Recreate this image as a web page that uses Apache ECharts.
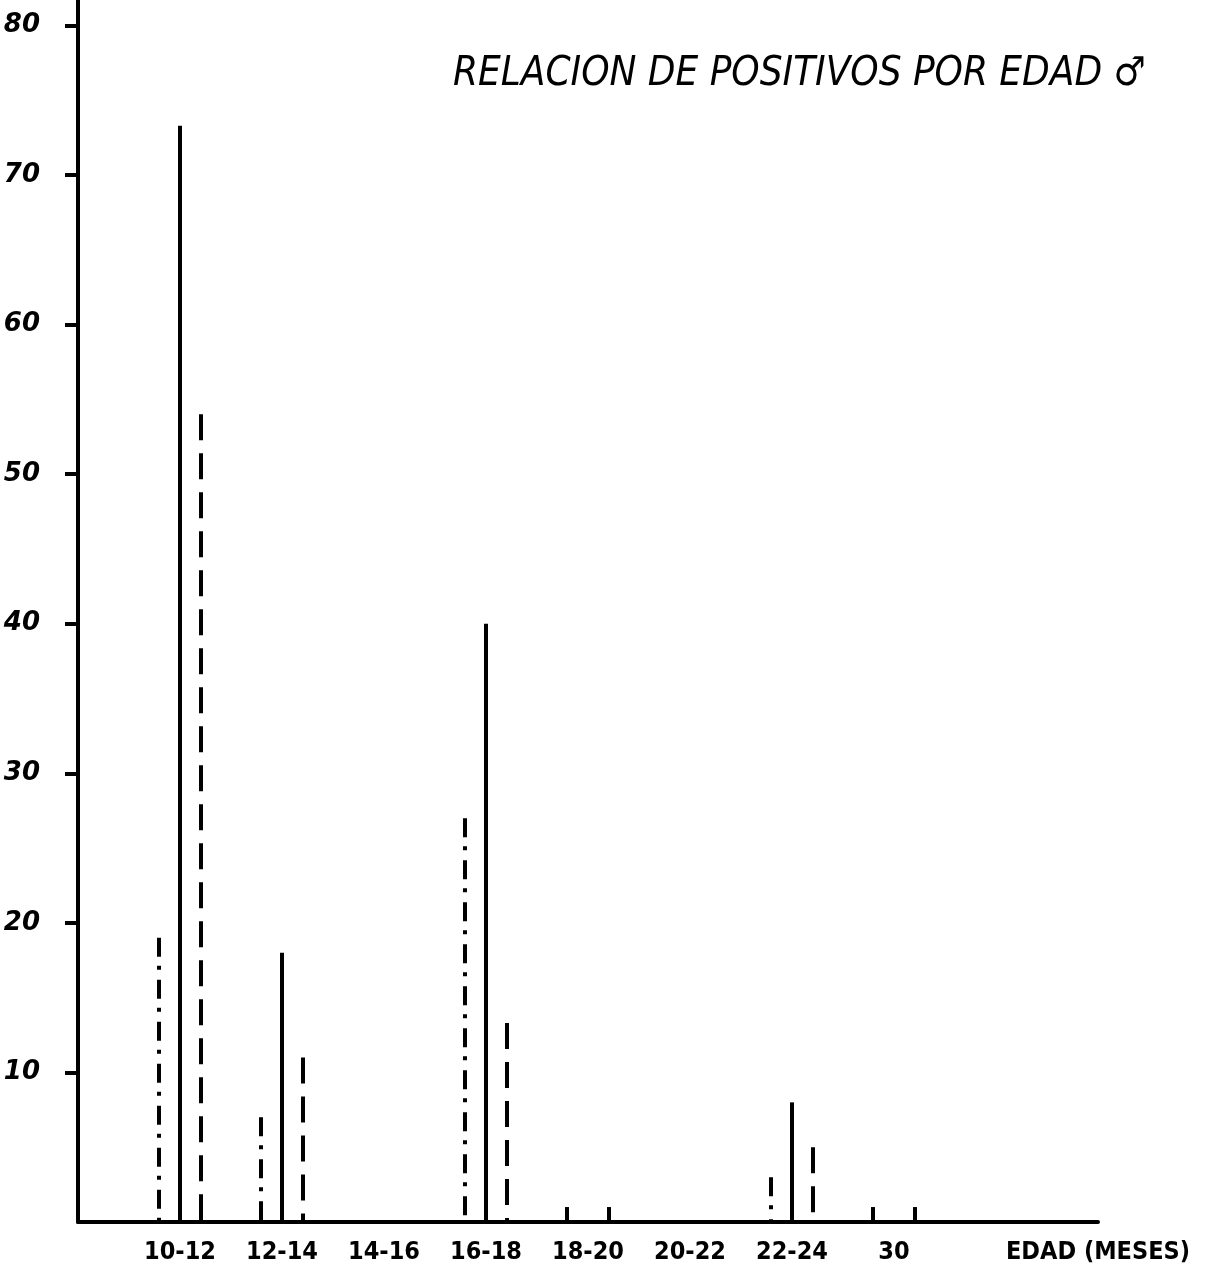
<!DOCTYPE html>
<html>
<head>
<meta charset="utf-8">
<script src="https://cdn.jsdelivr.net/npm/echarts@6/dist/echarts.min.js"></script>
<style>
  html, body { margin: 0; padding: 0; background: #fff; }
  #chart { width: 1222px; height: 1284px; }
</style>
</head>
<body>
<div id="chart"></div>
<script>
// age groups (meses), padded with blanks so the axis runs on past "30"
var categories = ['', '10-12', '12-14', '14-16', '16-18', '18-20', '20-22', '22-24', '30', '', 'EDAD (MESES)'];
// three series drawn as dash-dot, solid and dashed strokes
var dashDotValues = [null, 19, 7, 0, 27, 1, 0, 3, 1, null, null];
var solidValues   = [null, 73.3, 18, 0, 40, 0, 0, 8, 0, null, null];
var dashedValues  = [null, 54, 11, 0, 13.3, 1, 0, 5, 1, null, null];
var yTicks = [10, 20, 30, 40, 50, 60, 70, 80];

function stick(offset, dash) {
  return function (params, api) {
    var v = api.value(1);
    if (!v) return;
    var top = api.coord([api.value(0), v]);
    var base = api.coord([api.value(0), 0]);
    return {
      type: 'line',
      shape: { x1: top[0] + offset, y1: top[1], x2: top[0] + offset, y2: base[1] },
      style: { stroke: '#000', lineWidth: 4, lineDash: dash, lineCap: 'butt' }
    };
  };
}

function toData(arr) {
  return arr.map(function (v, i) { return [i, v]; });
}

var chart = echarts.init(document.getElementById('chart'));
var option = {
  backgroundColor: '#fff',
  animation: false,
  title: {
    text: 'RELACION DE POSITIVOS POR EDAD \u2642',
    left: 448,
    top: 50,
    textStyle: {
      fontFamily: 'DejaVu Sans Condensed',
      fontStyle: 'italic',
      fontWeight: 'normal',
      fontSize: 40,
      color: '#000'
    }
  },
  grid: { left: 78, right: 124, top: 0, bottom: 62 },
  xAxis: {
    type: 'category',
    data: categories,
    boundaryGap: false,
    axisLine: { lineStyle: { color: '#000', width: 4 } },
    axisTick: { show: false },
    splitLine: { show: false },
    axisLabel: {
      interval: 0,
      margin: 18,
      color: '#000',
      fontFamily: 'DejaVu Sans Condensed',
      fontWeight: 'bold',
      fontSize: 25
    }
  },
  yAxis: {
    type: 'value',
    min: 0,
    max: 81.7,
    interval: 10,
    axisLine: { show: true, lineStyle: { color: '#000', width: 4 } },
    axisTick: { show: true, length: 13, customValues: yTicks, lineStyle: { color: '#000', width: 4 } },
    splitLine: { show: false },
    axisLabel: {
      customValues: yTicks,
      margin: 38,
      color: '#000',
      fontFamily: 'DejaVu Sans',
      fontStyle: 'italic',
      fontWeight: 'bold',
      fontSize: 26
    }
  },
  series: [
    { name: 'dash-dot', type: 'custom', renderItem: stick(-21, [19, 9, 4, 10]), data: toData(dashDotValues) },
    { name: 'solid', type: 'custom', renderItem: stick(0, null), data: toData(solidValues) },
    { name: 'dashed', type: 'custom', renderItem: stick(21, [26, 13]), data: toData(dashedValues) }
  ]
};
chart.setOption(option);
</script>
</body>
</html>
